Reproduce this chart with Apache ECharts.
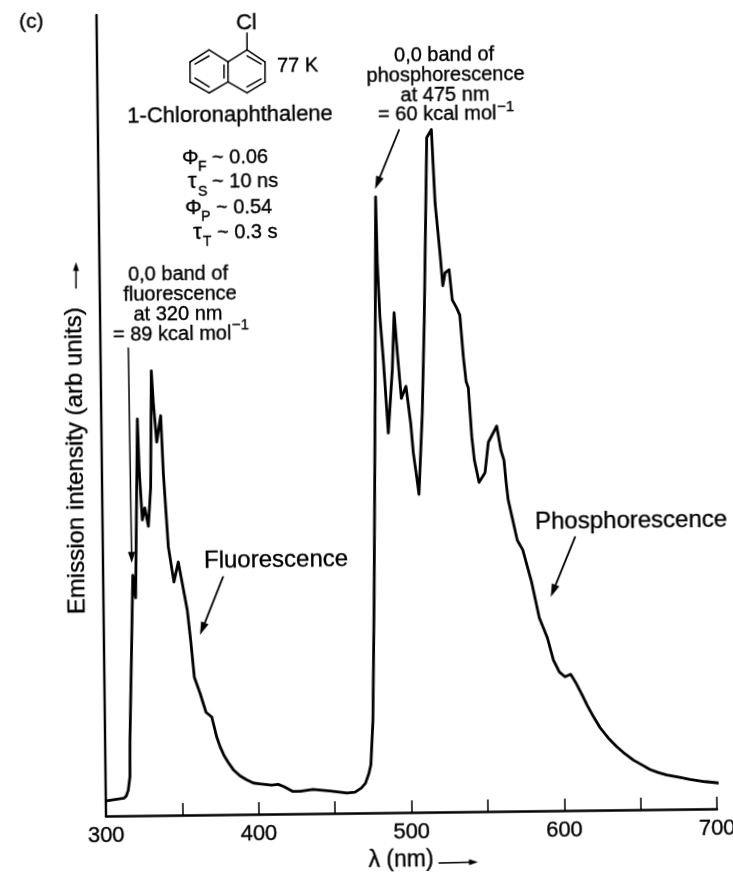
<!DOCTYPE html>
<html>
<head>
<meta charset="utf-8">
<style>
html,body{margin:0;padding:0;background:#fff;overflow:hidden;width:733px;height:875px}
#c{width:733px;height:875px;transform-origin:106px 816px;transform:rotate(-0.68deg)}
</style>
<script src="https://cdn.jsdelivr.net/npm/echarts@6/dist/echarts.min.js"></script>
</head>
<body>
<div id="c"></div>
<script>
const wavelengthNm = [300.4,311.9,313.5,314.8,316.0,316.1,316.3,318.2,319.4,320.3,321.1,323.6,324.5,326.1,327.8,330.0,331.8,333.1,334.2,336.1,338.9,340.2,342.9,346.3,349.3,354.8,356.8,358.9,362.5,366.3,370.0,373.1,375.2,377.7,380.5,383.7,388.1,392.4,396.7,400.6,408.7,412.9,416.7,422.3,427.2,435.7,446.8,458.0,463.2,467.3,470.1,472.4,473.8,475.5,477.2,479.4,481.3,481.9,483.2,485.1,487.8,490.9,492.5,494.3,496.6,499.7,502.5,504.0,506.0,507.4,510.2,512.2,515.2,518.3,520.2,523.0,524.6,526.2,528.8,530.7,533.5,535.5,537.5,539.1,540.5,542.4,543.9,546.8,550.8,553.2,558.8,561.3,563.3,564.5,565.7,571.4,574.9,580.5,585.2,590.3,594.1,597.9,601.6,605.3,608.7,612.4,615.9,619.8,624.1,629.4,634.9,640.2,645.7,651.1,656.5,661.9,667.4,675.0,682.6,692.4,702.2];
const emission = [1.9,2.2,2.5,3.2,4.9,6.5,9.5,21.9,30.0,28.5,27.2,49.5,42.8,36.9,38.4,36.1,41.0,55.5,51.5,46.6,49.9,42.7,33.5,29.1,31.6,25.6,21.8,17.2,15.2,12.8,12.2,9.7,8.5,7.4,6.5,5.6,4.8,4.3,3.9,3.8,3.6,3.7,3.4,2.8,2.8,3.0,2.8,2.5,2.6,3.1,3.7,4.9,6.0,11.6,26.6,51.5,76.9,68.6,61.9,56.5,47.4,55.3,62.4,57.4,51.7,53.2,48.6,44.9,41.9,39.7,49.9,61.5,84.2,85.2,76.0,69.8,65.7,67.3,67.7,63.9,62.9,62.0,56.8,53.7,52.9,46.8,43.9,41.1,42.3,46.1,48.1,45.1,43.8,41.1,38.9,33.8,32.6,28.5,24.1,21.6,18.8,17.3,16.7,17.0,15.9,14.5,13.1,11.7,10.3,9.0,7.9,7.0,6.2,5.6,5.0,4.6,4.3,4.0,3.7,3.4,3.2];
const labelledTicks = [300,400,500,600,700];

const INK = '#000';
const FONT = '"Liberation Sans", Arial, sans-serif';
const S = 0.0119;
// Layout helper: page position in the photographed frame -> position in the slightly turned chart frame
function P(px, py) {
  return [106 + (px - 106) + S * (816 - py), 816 - ((816 - py) - S * (px - 106))];
}
const g = [];
function T(text, px, py, size, align) {
  const p = P(px, py);
  g.push({type:'text', x:p[0], y:p[1], silent:true,
    style:{text:text, fill:INK, stroke:INK, lineWidth:0.35, font:size+'px '+FONT, textAlign:align||'left', textVerticalAlign:'middle'}});
}
function L(x1,y1,x2,y2,w) {
  const a=P(x1,y1), b=P(x2,y2);
  g.push({type:'line', silent:true, shape:{x1:a[0],y1:a[1],x2:b[0],y2:b[1]}, style:{stroke:INK, lineWidth:w||1.5, lineCap:'round'}});
}
function A(x1,y1,x2,y2,w,len,hw) {
  len=len||11; hw=hw||3.6;
  const d=Math.hypot(x2-x1,y2-y1), ux=(x2-x1)/d, uy=(y2-y1)/d;
  L(x1,y1,x2-ux*len*0.7,y2-uy*len*0.7,w||1.5);
  const t=P(x2,y2), b1=P(x2-ux*len-uy*hw,y2-uy*len+ux*hw), b2=P(x2-ux*len+uy*hw,y2-uy*len-ux*hw);
  g.push({type:'polygon', silent:true, shape:{points:[t,b1,b2]}, style:{fill:INK}});
}

T('(c)',19,22,21);
T('Cl',236,23,22);
L(247,50,247,33);
[[209,50,228,62],[228,62,228,82],[228,82,209,93],[209,93,190,82],[190,82,190,62],[190,62,209,50],
 [228,62,247,50],[247,50,265,62],[265,62,265,82],[265,82,247,93],[247,93,228,82],
 [195,64,209,56],[195,78,209,87],[224,65,224,78],[247,56,261,64],[247,87,261,79]].forEach(s=>L(s[0],s[1],s[2],s[3],1.5));
T('77 K',277,66,20);
T('1-Chloronaphthalene',230,115,22,'center');

T('Φ',182,158,21); T('F',198,167,14); T('~ 0.06',212,158,20);
T('τ',188,182,22); T('S',198,192,14); T('~ 10 ns',212,182,20);
T('Φ',185,208,21); T('P',201,217,14); T('~ 0.54',216,208,20);
T('τ',193,233,22); T('T',203,242,14); T('~ 0.3 s',217,233,20);

T('0,0 band of',178,275,20,'center');
T('fluorescence',180,295,20,'center');
T('at 320 nm',178,315,20,'center');
T('= 89 kcal mol',113,335,20);
T('−1',232,325,15);
A(128.3,348,131.7,563,1.5);

T('0,0 band of',444,55,20,'center');
T('phosphorescence',445.5,75,20,'center');
T('at 475 nm',445,95,20,'center');
T('= 60 kcal mol',378,115,20);
T('−1',497,107,15);
A(399,130,375,189,1.8,13,4);

T('Fluorescence',204,561,24);
A(223,577,200,635,1.8,13,4);
T('Phosphorescence',535,522,24);
A(575,537,550.7,597,1.8,13,4);

A(439,863,478,862,1.5,9,3);
A(76,288,76,262,1.5,9,3);

const chart = echarts.init(document.getElementById('c'), null, {renderer:'canvas'});
chart.setOption({
  animation:false,
  backgroundColor:'#fff',
  grid:{left:106, width:611, top:15, height:801, containLabel:false, outerBoundsMode:'none'},
  textStyle:{fontFamily:FONT, color:INK},
  xAxis:{
    type:'value', min:300, max:700, interval:50,
    name:'λ (nm)', nameLocation:'middle', nameGap:36,
    nameTextStyle:{fontSize:23, color:INK, fontFamily:FONT, padding:[0,22,0,0], textBorderColor:INK, textBorderWidth:0.35},
    axisLine:{show:true, onZero:false, lineStyle:{color:INK, width:2.5}},
    axisTick:{show:true, inside:true, length:12, lineStyle:{color:INK, width:1.5}},
    axisLabel:{show:true, margin:9, fontSize:22, color:INK, fontFamily:FONT, hideOverlap:false, textBorderColor:INK, textBorderWidth:0.35,
      formatter:v=>labelledTicks.includes(v)?String(v):''},
    splitLine:{show:false}
  },
  yAxis:{
    type:'value', min:0, max:100,
    name:'Emission intensity (arb units)', nameLocation:'middle', nameGap:14,
    nameTextStyle:{fontSize:24, color:INK, fontFamily:FONT, padding:[0,90,0,0], textBorderColor:INK, textBorderWidth:0.35},
    axisLine:{show:true, onZero:false, lineStyle:{color:INK, width:2.4}},
    axisTick:{show:false}, axisLabel:{show:false}, splitLine:{show:false}
  },
  series:[{
    type:'line', showSymbol:false, clip:false, smooth:false,
    data:wavelengthNm.map((x,i)=>[x,emission[i]]),
    lineStyle:{color:INK, width:2.8, join:'round', cap:'round'}
  }],
  graphic:g
});
</script>
</body>
</html>
